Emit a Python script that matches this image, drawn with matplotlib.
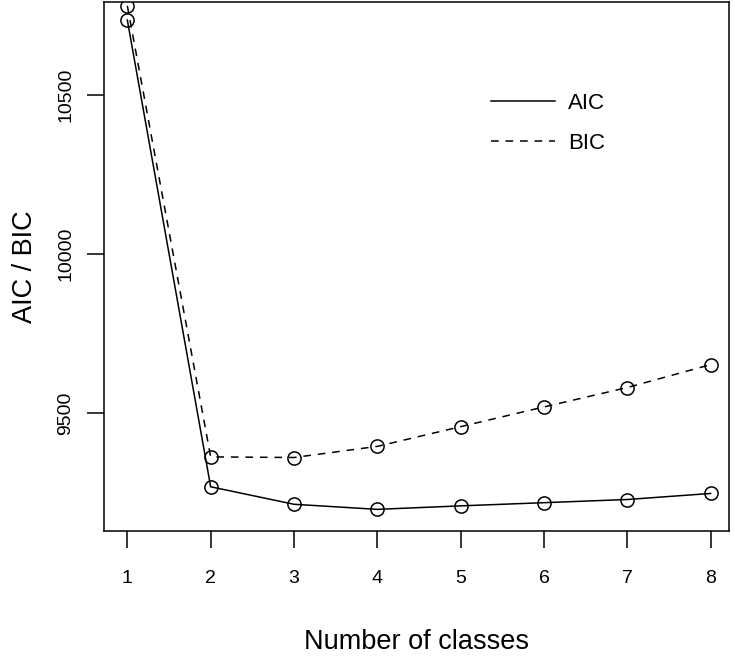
import matplotlib
matplotlib.use("Agg")
import matplotlib.pyplot as plt

# number of latent classes and the fit criteria
n_classes = [1, 2, 3, 4, 5, 6, 7, 8]
aic = [10736, 9269, 9214, 9198, 9209, 9219, 9229, 9248]
bic = [10781, 9363, 9361, 9396, 9458, 9520, 9581, 9653]
y_ticks = [9500, 10000, 10500]

plt.rcParams['font.family'] = ['Liberation Sans', 'DejaVu Sans']

fig = plt.figure(figsize=(7.35, 6.58), dpi=100)
ax = fig.add_axes([0.1415, 0.1935, 0.8503, 0.8035])

ax.plot(n_classes, aic, color='black', lw=1.1, ls='-',
        marker='o', ms=9.5, mfc='none', mec='black', mew=1.1, label='AIC')
ax.plot(n_classes, bic, color='black', lw=1.1, ls=(0, (5, 4.5)),
        marker='o', ms=9.5, mfc='none', mec='black', mew=1.1, label='BIC')

ax.set_xlim(0.72, 8.22)
ax.set_ylim(9131, 10793)
ax.set_xticks(n_classes)
ax.set_yticks(y_ticks)
ax.set_yticklabels([str(v) for v in y_ticks], rotation=90, va='center')

ax.tick_params(axis='both', direction='out', length=12.2, width=1.1,
               labelsize=14, color='black')
ax.tick_params(axis='x', pad=16)
ax.tick_params(axis='y', pad=9)
for s in ax.spines.values():
    s.set_linewidth(1.1)

ax.set_xlabel('Number of classes', fontsize=19.5, labelpad=30)
ax.set_ylabel('AIC / BIC', fontsize=19.5, labelpad=14)

ax.legend(loc='center left', bbox_to_anchor=(0.620, 0.770), frameon=False,
          fontsize=16, handlelength=2.85, handletextpad=0.6, labelspacing=0.85,
          borderpad=0, borderaxespad=0)
leg = ax.get_legend()
for h in leg.legend_handles:
    h.set_marker('')

fig.savefig('out.png', dpi=100)
